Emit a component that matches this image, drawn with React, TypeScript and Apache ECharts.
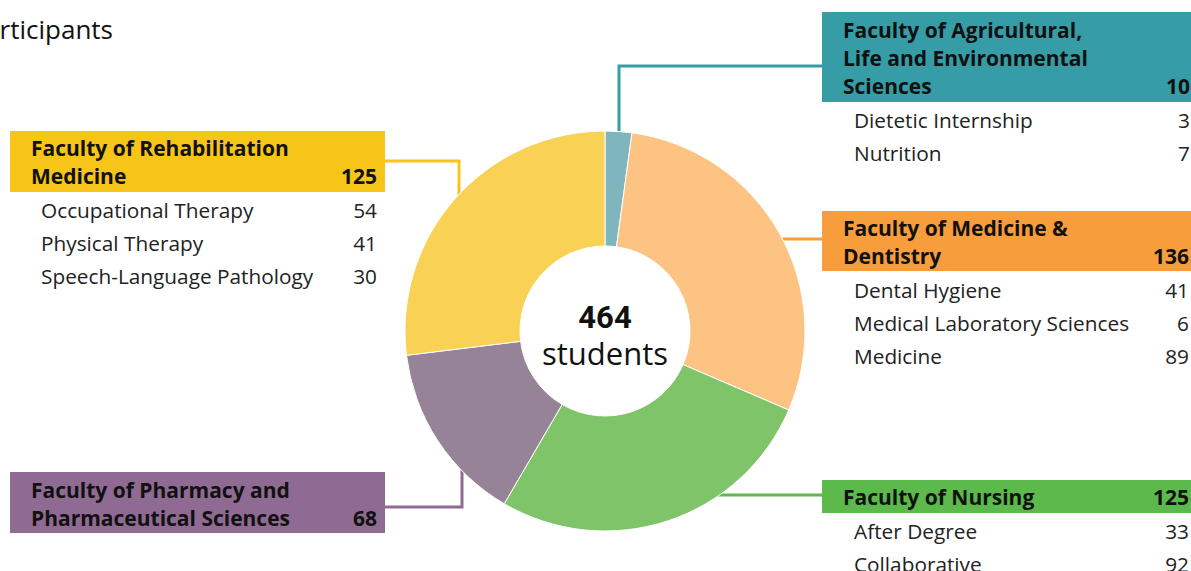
import React, { useEffect, useRef } from "react";
import * as echarts from "echarts";

const faculties = [
  "Faculty of Agricultural, Life and Environmental Sciences",
  "Faculty of Medicine & Dentistry",
  "Faculty of Nursing",
  "Faculty of Pharmacy and Pharmaceutical Sciences",
  "Faculty of Rehabilitation Medicine",
];
const totals = [10, 136, 125, 68, 125];
const headerLines = [
  ["Faculty of Agricultural,", "Life and Environmental", "Sciences"],
  ["Faculty of Medicine &", "Dentistry"],
  ["Faculty of Nursing"],
  ["Faculty of Pharmacy and", "Pharmaceutical Sciences"],
  ["Faculty of Rehabilitation", "Medicine"],
];
const programNames = [
  ["Dietetic Internship", "Nutrition"],
  ["Dental Hygiene", "Medical Laboratory Sciences", "Medicine"],
  ["After Degree", "Collaborative"],
  [],
  ["Occupational Therapy", "Physical Therapy", "Speech-Language Pathology"],
];
const programValues = [[3, 7], [41, 6, 89], [33, 92], [], [54, 41, 30]];
const sliceColors = ["#7FB6BE", "#FDC383", "#80C46A", "#978398", "#F9D154"];
const boxColors = ["#369CA6", "#F89D3B", "#5BBA4B", "#8F6A93", "#F7C518"];

const layout = [
  { bx: 822, by: 12, bw: 380, bh: 90, tx: 843, vx: 1190, ty: 30, sx: 854, sy: 120, leader: [[619, 131], [619, 66], [822, 66]] },
  { bx: 822, by: 211, bw: 380, bh: 60, tx: 843, vx: 1189, ty: 228, sx: 854, sy: 290, leader: [[781, 239], [822, 239]] },
  { bx: 822, by: 480, bw: 380, bh: 33, tx: 843, vx: 1189, ty: 497, sx: 854, sy: 531, leader: [[718, 495], [822, 495]] },
  { bx: 10, by: 472, bw: 375, bh: 61, tx: 31, vx: 377, ty: 490, sx: 41, sy: 552, leader: [[385, 507], [462, 507], [462, 470]] },
  { bx: 10, by: 131, bw: 375, bh: 61, tx: 31, vx: 377, ty: 148, sx: 41, sy: 210, leader: [[385, 161], [459, 161], [459, 195]] },
];

const HEAD_FONT = 'bold 21px "Open Sans", Roboto, sans-serif';
const SUB_FONT = '20.8px "Open Sans", Roboto, sans-serif';

export default function App() {
  const ref = useRef<HTMLDivElement>(null);
  useEffect(() => {
    if (!ref.current) return;
    const chart = echarts.init(ref.current, null, { renderer: "svg" });
    const graphics: any[] = [];
    layout.forEach((l, i) => {
      graphics.push({
        type: "polyline",
        z: 1,
        shape: { points: l.leader },
        style: { stroke: boxColors[i], lineWidth: 3, fill: null },
        silent: true,
      });
      graphics.push({
        type: "rect",
        z: 2,
        shape: { x: l.bx, y: l.by, width: l.bw, height: l.bh },
        style: { fill: boxColors[i] },
        silent: true,
      });
      headerLines[i].forEach((t, j) => {
        graphics.push({
          type: "text",
          z: 3,
          style: { text: t, x: l.tx, y: l.ty + j * 28, font: HEAD_FONT, fill: "#111", textAlign: "left", textVerticalAlign: "middle" },
        });
      });
      graphics.push({
        type: "text",
        z: 3,
        style: {
          text: String(totals[i]),
          x: l.vx,
          y: l.ty + (headerLines[i].length - 1) * 28,
          font: HEAD_FONT,
          fill: "#111",
          textAlign: "right",
          textVerticalAlign: "middle",
        },
      });
      programNames[i].forEach((p, j) => {
        graphics.push({
          type: "text",
          z: 3,
          style: { text: p, x: l.sx, y: l.sy + j * 33, font: SUB_FONT, fill: "#222", textAlign: "left", textVerticalAlign: "middle" },
        });
        graphics.push({
          type: "text",
          z: 3,
          style: { text: String(programValues[i][j]), x: l.vx, y: l.sy + j * 33, font: SUB_FONT, fill: "#222", textAlign: "right", textVerticalAlign: "middle" },
        });
      });
    });
    const total = totals.reduce((a, b) => a + b, 0);
    graphics.push({
      type: "text",
      z: 5,
      style: { text: String(total), x: 605, y: 317, font: 'bold 31px Roboto, "Open Sans", sans-serif', fill: "#111", textAlign: "center", textVerticalAlign: "middle" },
    });
    graphics.push({
      type: "text",
      z: 5,
      style: { text: "students", x: 605, y: 353, font: '31px "Open Sans", Roboto, sans-serif', fill: "#111", textAlign: "center", textVerticalAlign: "middle" },
    });
    graphics.push({
      type: "text",
      z: 5,
      style: { text: "Participants", x: 113, y: 29, font: '500 26px "Open Sans", Roboto, sans-serif', fill: "#111", textAlign: "right", textVerticalAlign: "middle" },
    });

    chart.setOption({
      animation: false,
      backgroundColor: "#fff",
      graphic: graphics,
      series: [
        {
          type: "pie",
          z: 4,
          radius: [85, 200],
          center: [605, 331],
          startAngle: 90,
          clockwise: true,
          silent: true,
          label: { show: false },
          labelLine: { show: false },
          itemStyle: { borderColor: "#fff", borderWidth: 1 },
          data: faculties.map((name, i) => ({ name, value: totals[i], itemStyle: { color: sliceColors[i] } })),
        },
      ],
    });
    return () => chart.dispose();
  }, []);
  return <div ref={ref} style={{ position: "fixed", left: 0, top: 0, width: 1191, height: 571 }} />;
}
